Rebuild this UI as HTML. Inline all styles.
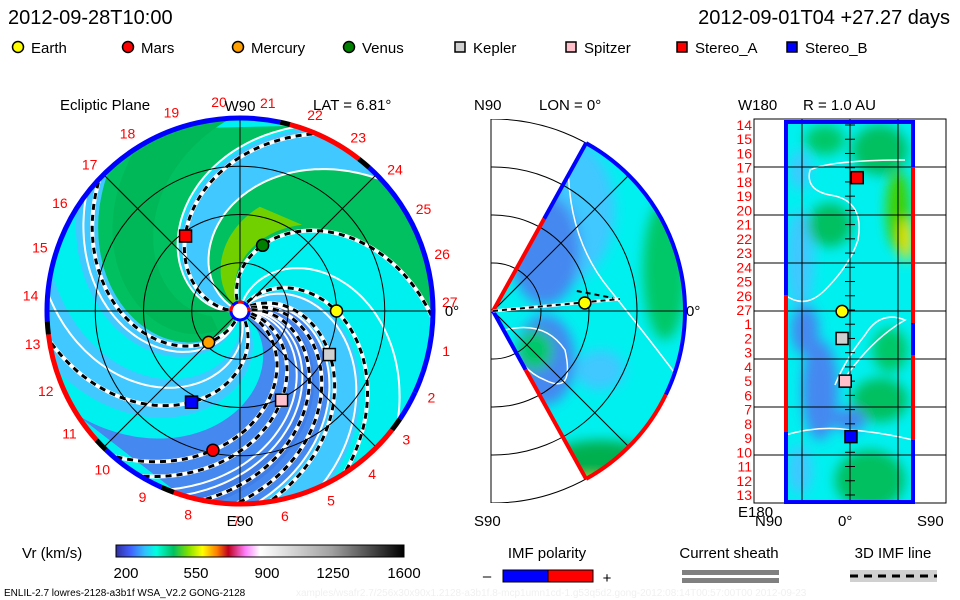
<!DOCTYPE html>
<html><head><meta charset="utf-8"><style>
html,body{margin:0;padding:0;background:#fff;}
svg{display:block;font-family:"Liberation Sans",sans-serif;}
</style></head><body>
<svg id="s" width="960" height="600" viewBox="0 0 960 600">
<defs>
<clipPath id="diskClip"><circle cx="240" cy="311" r="193"/></clipPath>
<clipPath id="wedgeClip"><path id="wedgePathC" d=""/></clipPath>
<clipPath id="rectClip"><rect x="785" y="122" width="129" height="381"/></clipPath>
<clipPath id="midFrame"><rect x="491" y="119" width="220" height="384"/></clipPath>
<filter id="blur4"><feGaussianBlur stdDeviation="6"/></filter>
<linearGradient id="cbar" x1="0" x2="1" y1="0" y2="0">
<stop offset="0" stop-color="#3030a0"/><stop offset="0.05" stop-color="#4060ff"/><stop offset="0.1" stop-color="#30c0ff"/><stop offset="0.14" stop-color="#00ffe0"/><stop offset="0.2" stop-color="#00c060"/><stop offset="0.25" stop-color="#80e000"/><stop offset="0.3" stop-color="#ffff00"/><stop offset="0.35" stop-color="#ff8000"/><stop offset="0.39" stop-color="#c00020"/><stop offset="0.45" stop-color="#ff80ff"/><stop offset="0.5" stop-color="#ffffff"/><stop offset="0.75" stop-color="#a0a0a0"/><stop offset="1" stop-color="#000"/>
</linearGradient>
</defs>

<text x="8" y="24" font-size="20">2012-09-28T10:00</text>
<text x="950" y="24" font-size="20" text-anchor="end">2012-09-01T04 +27.27 days</text>
<g id="legend" font-size="15"></g>

<g id="left"></g>
<g id="mid"></g>
<g id="right"></g>

<g>
<text x="22" y="558" font-size="15">Vr (km/s)</text>
<rect x="116" y="545" width="288" height="12" fill="url(#cbar)" stroke="#000"/>
<text x="126" y="578" font-size="15" text-anchor="middle">200</text>
<text x="196" y="578" font-size="15" text-anchor="middle">550</text>
<text x="267" y="578" font-size="15" text-anchor="middle">900</text>
<text x="333" y="578" font-size="15" text-anchor="middle">1250</text>
<text x="404" y="578" font-size="15" text-anchor="middle">1600</text>
</g>
<g>
<text x="547" y="558" font-size="15" text-anchor="middle">IMF polarity</text>
<text x="487" y="581" font-size="15" text-anchor="middle">–</text>
<rect x="503" y="570" width="45" height="12" fill="#0000ff" stroke="#000"/>
<rect x="548" y="570" width="45" height="12" fill="#ff0000" stroke="#000"/>
<text x="607" y="583" font-size="15" text-anchor="middle">+</text>
</g>
<g>
<text x="729" y="558" font-size="15" text-anchor="middle">Current sheath</text>
<rect x="682" y="570" width="97" height="5" fill="#808080"/>
<rect x="682" y="578" width="97" height="5" fill="#808080"/>
</g>
<g>
<text x="893" y="558" font-size="15" text-anchor="middle">3D IMF line</text>
<rect x="850" y="570" width="87" height="12" fill="#d0d0d0"/>
<line x1="850" y1="576" x2="937" y2="576" stroke="#000" stroke-width="3" stroke-dasharray="8 6"/>
</g>
<text x="4" y="596" font-size="10">ENLIL-2.7 lowres-2128-a3b1f WSA_V2.2 GONG-2128</text>
<text x="296" y="596" font-size="10" fill="#f0f0f0">xamples/wsafr2.7/256x30x90x1.2128-a3b1f.8-mcp1umn1cd-1.g53q5d2.gong-2012:08:14T00:57:00T00    2012-09-23</text>

<script>
const NS="http://www.w3.org/2000/svg";
function el(t,a,p){const e=document.createElementNS(NS,t);for(const k in a)e.setAttribute(k,a[k]);p.appendChild(e);return e;}

// ---------- data ----------
const legendNames=["Earth","Mars","Mercury","Venus","Kepler","Spitzer","Stereo_A","Stereo_B"];
const legendColors=["#ffff00","#ff0000","#ffa000","#008000","#d0d0d0","#ffc0cb","#ff0000","#0000ff"];
const legendShapes=["c","c","c","c","s","s","s","s"];
const legendX=[12,122,232,343,454,565,676,786];
// body positions in ecliptic plane: radius (AU) and longitude (deg)
const bodyR=[1.0,1.47,0.46,0.72,1.03,1.02,0.96,1.07];
const bodyLon=[0,259,225,71,-26,-65,126,242];
// IMF field lines: longitude at 1 AU (deg)
const imfLon=[0,55,124,194,246,286,296,-24,-34,-44];
// current sheath lines: longitude at 1 AU
const sheathLon=[22,100,130,200,232,-28,-8,305,-50];
// solar wind bands: lon1, lon2, colour
const bandA=[130,55,100,-90,-28,225,190,-50];
const bandB=[190,100,128,-28,-5,255,205,-40];
const bandC=["#00c060","#00c060","#40c8ff","#4488f0","#40c8ff","#40c8ff","#40c8ff","#3f7ee8"];
const sectorLabels=[1,2,3,4,5,6,7,8,9,10,11,12,13,14,15,16,17,18,19,20,21,22,23,24,25,26,27];
// meridional panel
const midEarthR=0.96, midEarthLat=5;
// 1 AU panel bodies: latitude (deg) and row index (0 = sector 14)
const sphLat=[-3,3.3,3.3,2,-0.4];
const sphPos=[3.7,13.1,15.0,18.0,21.9];
const sphShape=["s","c","s","s","s"];
const sphColor=["#ff0000","#ffff00","#d0d0d0","#ffc0cb","#0000ff"];

// ---------- legend ----------
const lg=document.getElementById('legend');
legendNames.forEach((n,i)=>{
  const g=el('g',{},lg);
  
  
  const x=legendX[i];
  if(legendShapes[i]==="c") el('circle',{cx:x+6,cy:47,r:5.5,fill:legendColors[i],stroke:"#000","stroke-width":1.5},g);
  else el('rect',{x:x+1,y:42,width:10,height:10,fill:legendColors[i],stroke:"#000","stroke-width":1.5},g);
  const t=el('text',{x:x+19,y:53},g);t.textContent=n;
});

// ---------- left panel ----------
const L=document.getElementById('left');
const CX=240,CY=311,AU=96.5,K=1.0;
function pt(r,lonDeg){const a=lonDeg*Math.PI/180;return [CX+r*AU*Math.cos(a),CY-r*AU*Math.sin(a)];}
function spiralPts(lon1,r0,r1){const p=[];for(let r=r0;r<=r1+1e-6;r+=0.02){p.push(pt(r,lon1-(r-1)*K*180/Math.PI));}return p;}
function ptsStr(p){return p.map(q=>q[0].toFixed(1)+","+q[1].toFixed(1)).join(" ");}
const disk=el('g',{"clip-path":"url(#diskClip)"},L);
el('circle',{cx:CX,cy:CY,r:193,fill:"#00f0f0"},disk);
bandA.forEach((a,i)=>{
  const p1=spiralPts(a,0.08,2.2), p2=spiralPts(bandB[i],0.08,2.2).reverse();
  const b=el('polygon',{points:ptsStr(p1.concat(p2)),fill:bandC[i]},disk);
  
  
});
el('polygon',{points:ptsStr(spiralPts(60,0.1,1.1).concat(spiralPts(85,0.1,1.1).reverse())),fill:"#70d000"},disk);
el('polygon',{points:ptsStr(spiralPts(150,0.3,2.2).concat(spiralPts(180,0.3,2.2).reverse())),fill:"#00b858"},disk);
sheathLon.forEach(a=>{
  const l=el('polyline',{points:ptsStr(spiralPts(a,0.1,2.2)),fill:"none",stroke:"#fff","stroke-width":2},disk);
  
  
});
imfLon.forEach(a=>{
  const p=ptsStr(spiralPts(a,0.12,2.0));
  el('polyline',{points:p,fill:"none",stroke:"#fff","stroke-width":4},disk);
  const l=el('polyline',{points:p,fill:"none",stroke:"#000","stroke-width":3,"stroke-dasharray":"6 5"},disk);
  
  
});
[0.5,1,1.5].forEach(r=>el('circle',{cx:CX,cy:CY,r:r*AU,fill:"none",stroke:"#000","stroke-width":1},L));
[0,45,90,135].forEach(a=>{const p=pt(2,a),q=pt(2,a+180);el('line',{x1:p[0],y1:p[1],x2:q[0],y2:q[1],stroke:"#000","stroke-width":1},L);});
const ringSegs=[[-25,48,"#0000ff"],[48,52,"#000"],[52,75,"#ff0000"],[75,78,"#000"],[78,183,"#0000ff"],[183,187,"#000"],[187,222,"#ff0000"],[222,226,"#000"],[226,246,"#0000ff"],[246,250,"#000"],[250,322,"#ff0000"],[322,326,"#000"],[326,335,"#0000ff"]];
ringSegs.forEach(s=>{
  const a1=s[0]*Math.PI/180,a2=s[1]*Math.PI/180,R=193;
  el('path',{d:`M${CX+R*Math.cos(a1)},${CY-R*Math.sin(a1)} A${R},${R} 0 0 0 ${CX+R*Math.cos(a2)},${CY-R*Math.sin(a2)}`,fill:"none",stroke:s[2],"stroke-width":5},L);
});
el('circle',{cx:CX,cy:CY,r:9,fill:"#fff",stroke:"#0000ff","stroke-width":3},L);
el('path',{d:`M${CX-9},${CY} A9,9 0 0 1 ${CX+9},${CY}`,fill:"none",stroke:"#ff0000","stroke-width":3,"stroke-dasharray":"6 6"},L);
sectorLabels.forEach((k,i)=>{
  const a=(-11-i*13.33)*Math.PI/180,R=210;
  const t=el('text',{x:CX+R*Math.cos(a),y:CY-R*Math.sin(a)+5,"font-size":14,fill:"#ff0000","text-anchor":"middle"},L);
  t.textContent=k;
});
[["Ecliptic Plane",60,110,"start"],["W90",240,111,"middle"],["LAT = 6.81°",313,110,"start"],["E90",240,526,"middle"],["0°",452,316,"middle"]].forEach(d=>{
  const t=el('text',{x:d[1],y:d[2],"font-size":15,"text-anchor":d[3]},L);t.textContent=d[0];
});
bodyR.forEach((r,i)=>{
  const p=pt(r,bodyLon[i]);
  let m;
  if(legendShapes[i]==="c") m=el('circle',{cx:p[0],cy:p[1],r:6,fill:legendColors[i],stroke:"#000","stroke-width":1.5},L);
  else m=el('rect',{x:p[0]-6,y:p[1]-6,width:12,height:12,fill:legendColors[i],stroke:"#000","stroke-width":1.5},L);
  
  
});

// ---------- middle panel ----------
const M=document.getElementById('mid');
const MX=493,MY=311,MR=192,WA=61*Math.PI/180;
const wd=`M${MX},${MY} L${MX+MR*Math.cos(WA)},${MY-MR*Math.sin(WA)} A${MR},${MR} 0 0 1 ${MX+MR*Math.cos(WA)},${MY+MR*Math.sin(WA)} Z`;
document.getElementById('wedgePathC').setAttribute('d',wd);
const wg=el('g',{"clip-path":"url(#wedgeClip)"},M);
el('path',{d:wd,fill:"#00f0f0"},wg);
const mb=el('g',{filter:"url(#blur4)"},wg);
el('ellipse',{cx:560,cy:210,rx:55,ry:75,fill:"#40c8ff"},mb);
el('ellipse',{cx:545,cy:250,rx:35,ry:55,fill:"#4488f0"},mb);
el('ellipse',{cx:545,cy:360,rx:30,ry:45,fill:"#4488f0"},mb);
el('ellipse',{cx:535,cy:350,rx:18,ry:20,fill:"#00c868"},mb);
el('ellipse',{cx:665,cy:270,rx:22,ry:70,fill:"#00c868"},mb);
el('ellipse',{cx:600,cy:470,rx:60,ry:30,fill:"#00b050"},mb);
el('ellipse',{cx:590,cy:490,rx:25,ry:12,fill:"#c0f000"},mb);
el('ellipse',{cx:600,cy:370,rx:25,ry:20,fill:"#40c8ff"},mb);
el('path',{d:"M570,135 Q560,230 610,290 Q650,340 680,380",fill:"none",stroke:"#fff","stroke-width":1.5},wg);
el('path',{d:"M505,330 Q545,320 565,350 Q575,395 545,380 Q520,370 510,340",fill:"none",stroke:"#fff","stroke-width":1.5},wg);
const mg=el('g',{"clip-path":"url(#midFrame)"},M);
[48,96,144,192].forEach(r=>el('circle',{cx:MX,cy:MY,r:r,fill:"none",stroke:"#000","stroke-width":1},mg));
el('line',{x1:MX,y1:MY,x2:MX+MR,y2:MY,stroke:"#000"},M);
el('line',{x1:MX,y1:MY,x2:MX+MR*0.707,y2:MY-MR*0.707,stroke:"#000"},M);
el('line',{x1:MX,y1:MY,x2:MX+MR*0.707,y2:MY+MR*0.707,stroke:"#000"},M);
el('line',{x1:491,y1:119,x2:491,y2:503,stroke:"#000"},M);
const ea=[MX+MR*Math.cos(WA),MY-MR*Math.sin(WA)],eb=[MX+MR*Math.cos(WA),MY+MR*Math.sin(WA)];
el('line',{x1:MX,y1:MY,x2:MX+(ea[0]-MX)*0.55,y2:MY+(ea[1]-MY)*0.55,stroke:"#ff0000","stroke-width":4},M);
el('line',{x1:MX+(ea[0]-MX)*0.55,y1:MY+(ea[1]-MY)*0.55,x2:ea[0],y2:ea[1],stroke:"#0000ff","stroke-width":4},M);
el('line',{x1:MX,y1:MY,x2:MX+(eb[0]-MX)*0.35,y2:MY+(eb[1]-MY)*0.35,stroke:"#0000ff","stroke-width":4},M);
el('line',{x1:MX+(eb[0]-MX)*0.35,y1:MY+(eb[1]-MY)*0.35,x2:eb[0],y2:eb[1],stroke:"#ff0000","stroke-width":4},M);
el('path',{d:`M${ea[0]},${ea[1]} A${MR},${MR} 0 0 1 ${MX+MR*Math.cos(-0.45)},${MY-MR*Math.sin(-0.45)}`,fill:"none",stroke:"#0000ff","stroke-width":4},M);
el('path',{d:`M${MX+MR*Math.cos(-0.45)},${MY-MR*Math.sin(-0.45)} A${MR},${MR} 0 0 1 ${eb[0]},${eb[1]}`,fill:"none",stroke:"#ff0000","stroke-width":4},M);
const ela=midEarthLat*Math.PI/180;
const ex=MX+midEarthR*96*Math.cos(ela),ey=MY-midEarthR*96*Math.sin(ela);
el('line',{x1:MX,y1:MY,x2:ex+35,y2:ey-4,stroke:"#fff","stroke-width":3},M);
el('line',{x1:MX,y1:MY,x2:ex+35,y2:ey-4,stroke:"#000","stroke-width":2,"stroke-dasharray":"5 4"},M);
el('path',{d:`M${ex-8},${ey-12} L${ex+28},${ey-5}`,fill:"none",stroke:"#000","stroke-width":2,"stroke-dasharray":"5 4"},M);
const me=el('circle',{cx:ex,cy:ey,r:6,fill:"#ffff00",stroke:"#000","stroke-width":1.5},M);


[["N90",474,110],["LON = 0°",539,110],["S90",474,526],["0°",686,316]].forEach(d=>{const t=el('text',{x:d[1],y:d[2],"font-size":15},M);t.textContent=d[0];});

// ---------- right panel ----------
const R=document.getElementById('right');
const rg=el('g',{"clip-path":"url(#rectClip)"},R);
el('rect',{x:785,y:122,width:129,height:381,fill:"#00f0f0"},rg);
const rb=el('g',{filter:"url(#blur4)"},rg);
[[800,260,14,50,"#40c8ff"],[820,390,18,50,"#4488f0"],[805,330,14,25,"#4488f0"],[800,470,12,25,"#40c8ff"],
 [870,480,35,30,"#00c060"],[880,400,28,22,"#00c060"],[880,150,28,25,"#00c060"],[830,225,22,22,"#00c060"],
 [898,210,12,40,"#40d000"],[906,240,6,22,"#ffe000"],[825,140,20,15,"#00c868"],[890,350,18,22,"#00c868"],
 [850,420,16,12,"#4488f0"],[800,170,10,20,"#40c8ff"]].forEach(e=>el('ellipse',{cx:e[0],cy:e[1],rx:e[2],ry:e[3],fill:e[4]},rb));
el('path',{d:"M785,295 Q805,310 825,290 Q850,265 858,240 Q865,200 830,195 Q805,190 810,170 Q830,160 905,160",fill:"none",stroke:"#fff","stroke-width":1.5},rg);
el('path',{d:"M835,385 Q845,360 865,335 Q880,310 905,320 Q870,340 840,385",fill:"none",stroke:"#fff","stroke-width":1.5},rg);
el('path',{d:"M785,435 Q820,425 850,430 Q880,432 913,440",fill:"none",stroke:"#fff","stroke-width":1.5},rg);
el('rect',{x:754,y:119,width:192,height:384,fill:"none",stroke:"#000"},R);
[167,215,263,311,359,407,455].forEach(y=>el('line',{x1:754,y1:y,x2:946,y2:y,stroke:"#000"},R));
[802,850,898].forEach(x=>el('line',{x1:x,y1:119,x2:x,y2:503,stroke:"#000"},R));
el('rect',{x:786,y:122,width:127,height:380,fill:"none",stroke:"#0000ff","stroke-width":4},R);
el('line',{x1:786,y1:295,x2:786,y2:432,stroke:"#ff0000","stroke-width":4},R);
el('line',{x1:913,y1:167,x2:913,y2:323,stroke:"#ff0000","stroke-width":4},R);
el('line',{x1:913,y1:355,x2:913,y2:440,stroke:"#ff0000","stroke-width":4},R);
sectorLabels.forEach((k,i)=>{
  const lab=sectorLabels[(i+13)%27];
  const y=125+i*14.23;
  const t=el('text',{x:752,y:y+5,"font-size":14,fill:"#ff0000","text-anchor":"end"},R);t.textContent=lab;
  el('line',{x1:845,y1:y,x2:855,y2:y,stroke:"#000"},R);
});
[["W180",738,110],["R = 1.0 AU",803,110],["E180",738,517],["N90",755,526],["0°",838,526],["S90",917,526]].forEach(d=>{const t=el('text',{x:d[1],y:d[2],"font-size":15},R);t.textContent=d[0];});
sphLat.forEach((lat,i)=>{
  const x=850-lat*2.4, y=125+sphPos[i]*14.23;
  let m;
  if(sphShape[i]==="c") m=el('circle',{cx:x,cy:y,r:6,fill:sphColor[i],stroke:"#000","stroke-width":1.5},R);
  else m=el('rect',{x:x-6,y:y-6,width:12,height:12,fill:sphColor[i],stroke:"#000","stroke-width":1.5},R);
  
  
});
</script>
</svg>
</body></html>
